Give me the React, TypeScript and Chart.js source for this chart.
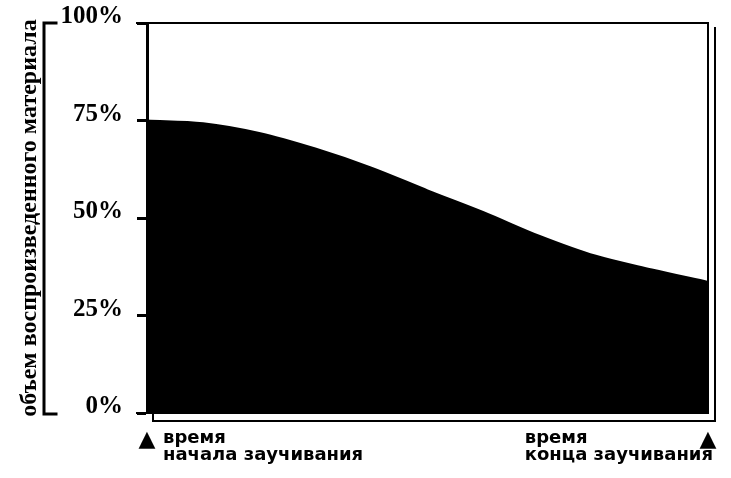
import { useEffect, useRef } from "react"
import { Chart, registerables } from "chart.js"

Chart.register(...registerables)

// time of learning (0 = start, 100 = end) and share of recalled material, %
const timePoints = [0, 10, 20, 30, 40, 50, 60, 70, 80, 90, 100]
const recalled = [75, 74.3, 71.8, 67.8, 62.9, 57.1, 51.5, 45.4, 40.3, 36.8, 33.6]
const yTicks = [0, 25, 50, 75, 100]
const yTitle = "объем воспроизведенного материала"
const startLabel = ["время", "начала заучивания"]
const endLabel = ["время", "конца заучивания"]

const serif = "'Liberation Serif', 'Times New Roman', serif"
const labelFont = "bold 18px 'DejaVu Sans', sans-serif"
const markFont = "22px 'DejaVu Sans', sans-serif"

// frame, bracket and the two bottom captions of the scanned figure
const decorPlugin = {
  id: "decor",
  afterDraw(chart: Chart) {
    const { ctx, chartArea } = chart
    const { left, right, top, bottom } = chartArea
    const xs = chart.scales.x
    ctx.save()
    ctx.strokeStyle = "#000"
    ctx.lineCap = "square"

    // frame
    ctx.lineWidth = 2
    ctx.beginPath()
    ctx.moveTo(left - 10, top)
    ctx.lineTo(right, top)
    ctx.lineTo(right, bottom)
    ctx.lineTo(left - 10, bottom)
    ctx.stroke()
    // offset (shadow) lines on the right and bottom
    ctx.beginPath()
    ctx.moveTo(right + 7, top + 5)
    ctx.lineTo(right + 7, bottom + 8)
    ctx.lineTo(left + 6, bottom + 8)
    ctx.lineTo(left + 6, bottom + 1)
    ctx.stroke()

    // bracket next to the axis title
    ctx.lineWidth = 3
    ctx.beginPath()
    ctx.moveTo(56, top)
    ctx.lineTo(44, top)
    ctx.lineTo(44, bottom + 1)
    ctx.lineTo(56, bottom + 1)
    ctx.stroke()

    // bottom captions
    const x0 = xs.getPixelForValue(timePoints[0])
    const x1 = xs.getPixelForValue(timePoints[timePoints.length - 1])
    const b1 = bottom + 30
    const b2 = bottom + 47
    ctx.fillStyle = "#000"
    ctx.textBaseline = "alphabetic"
    ctx.textAlign = "center"
    ctx.font = markFont
    ctx.fillText("▲", x0, b1 + 3)
    ctx.fillText("▲", x1, b1 + 3)
    ctx.font = labelFont
    ctx.textAlign = "left"
    ctx.fillText(startLabel[0], x0 + 16, b1)
    ctx.fillText(startLabel[1], x0 + 16, b2)
    const w = ctx.measureText(endLabel[1]).width
    const sx = x1 + 5 - w
    ctx.fillText(endLabel[0], sx, b1)
    ctx.fillText(endLabel[1], sx, b2)
    ctx.restore()
  },
}

function RecallChart() {
  const chartRef = useRef<HTMLCanvasElement>(null)
  const chartInstance = useRef<Chart | null>(null)

  useEffect(() => {
    if (!chartRef.current) return
    if (chartInstance.current) chartInstance.current.destroy()

    const ctx = chartRef.current.getContext("2d")
    if (!ctx) return

    chartInstance.current = new Chart(ctx, {
      type: "line",
      data: {
        datasets: [
          {
            data: timePoints.map((t, i) => ({ x: t, y: recalled[i] })),
            borderColor: "#000",
            backgroundColor: "#000",
            borderWidth: 2,
            fill: "origin",
            pointRadius: 0,
            cubicInterpolationMode: "monotone",
          },
        ],
      },
      options: {
        animation: false,
        responsive: true,
        maintainAspectRatio: false,
        layout: { padding: { left: 0, right: 23, top: 23, bottom: 65 } },
        plugins: {
          legend: { display: false },
          tooltip: { enabled: false },
        },
        scales: {
          x: {
            type: "linear",
            min: timePoints[0],
            max: timePoints[timePoints.length - 1],
            display: false,
          },
          y: {
            min: yTicks[0],
            max: yTicks[yTicks.length - 1],
            afterBuildTicks: (scale) => {
              scale.ticks = yTicks.map((v) => ({ value: v }))
            },
            afterFit: (scale) => {
              scale.width = 147
              scale.paddingTop = 0
              scale.paddingBottom = 0
            },
            border: { display: true, color: "#000", width: 3 },
            grid: {
              drawOnChartArea: false,
              drawTicks: true,
              tickLength: 10,
              tickWidth: 3,
              tickColor: "#000",
            },
            ticks: {
              color: "#000",
              padding: 14,
              labelOffset: -6,
              font: { family: serif, size: 25, weight: "bold" },
              callback: (v) => `${v}%`,
            },
            title: {
              display: true,
              text: yTitle,
              color: "#000",
              padding: { top: 15, bottom: 0 },
              font: { family: serif, size: 24, weight: "bold" },
            },
          },
        },
      },
      plugins: [decorPlugin],
    })

    return () => {
      if (chartInstance.current) {
        chartInstance.current.destroy()
        chartInstance.current = null
      }
    }
  }, [])

  return <canvas ref={chartRef} />
}

export default function App() {
  return (
    <div style={{ position: "fixed", left: 0, top: 0, width: 731, height: 478, background: "#fff" }}>
      <RecallChart />
    </div>
  )
}
